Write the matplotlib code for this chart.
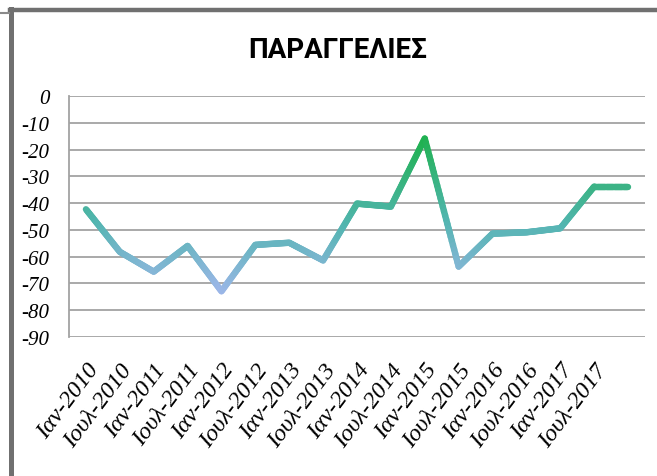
import numpy as np
import matplotlib
matplotlib.use("Agg")
import matplotlib.pyplot as plt
from matplotlib.collections import LineCollection
from matplotlib.colors import LinearSegmentedColormap, Normalize
from matplotlib.lines import Line2D

# Half-yearly order balance
periods = ["Ιαν-2010", "Ιουλ-2010", "Ιαν-2011", "Ιουλ-2011", "Ιαν-2012", "Ιουλ-2012",
           "Ιαν-2013", "Ιουλ-2013", "Ιαν-2014", "Ιουλ-2014", "Ιαν-2015", "Ιουλ-2015",
           "Ιαν-2016", "Ιουλ-2016", "Ιαν-2017", "Ιουλ-2017", ""]
orders = [-42.3, -58.2, -65.6, -56.0, -72.9, -55.6, -54.8, -61.4, -40.2, -41.3,
          -15.9, -63.7, -51.4, -50.9, -49.4, -33.8, -33.8]
yticks = [0, -10, -20, -30, -40, -50, -60, -70, -80, -90]

W, H, DPI = 657, 477, 100
fig = plt.figure(figsize=(W / DPI, H / DPI), dpi=DPI)
ax = fig.add_axes([69 / W, 1 - 338 / H, (645 - 69) / W, (338 - 97) / H])

x = np.arange(len(orders))
y = np.array(orders)

# gradient line: colour follows the vertical position
cmap = LinearSegmentedColormap.from_list(
    "grad", [(0.0, "#9cb6e8"), (0.45, "#52b5b0"), (1.0, "#1fb150")])
norm = Normalize(vmin=-73, vmax=-16)
segs, cols = [], []
n_sub = 30
for i in range(len(x) - 1):
    t = np.linspace(0, 1, n_sub + 1)
    xs = x[i] + (x[i + 1] - x[i]) * t
    ys = y[i] + (y[i + 1] - y[i]) * t
    for k in range(n_sub):
        segs.append([(xs[k], ys[k]), (xs[k + 1], ys[k + 1])])
        cols.append(cmap(norm((ys[k] + ys[k + 1]) / 2)))
lc = LineCollection(segs, colors=cols, linewidths=4.6, capstyle="round",
                    joinstyle="round", zorder=3)
ax.add_collection(lc)

serif = ["Liberation Serif", "DejaVu Serif"]
ax.set_xlim(-0.5, len(orders) - 0.5)
ax.set_ylim(-90, 0)
ax.set_yticks(yticks)
ax.set_yticklabels([str(v) for v in yticks], fontfamily=serif,
                   fontstyle="italic", fontsize=15)
ax.yaxis.grid(True, color="#a3a3a3", linewidth=1.3)
ax.set_axisbelow(True)
ax.tick_params(axis="y", length=0, pad=14)
ax.tick_params(axis="x", length=0, pad=16)
ax.set_xticks(x)
ax.set_xticklabels(periods, rotation=53, ha="right", va="top",
                   rotation_mode="anchor", fontfamily=serif,
                   fontstyle="italic", fontsize=17.5)
for side in ["top", "right", "bottom"]:
    ax.spines[side].set_visible(False)
ax.spines["left"].set_color("#a3a3a3")
ax.spines["left"].set_linewidth(1.3)

fig.text(338 / W, 1 - 50 / H, "ΠΑΡΑΓΓΕΛΙΕΣ", ha="center", va="center",
         fontfamily=["Roboto", "DejaVu Sans"], fontweight="bold", fontsize=20)

# outer chart frame
fig.add_artist(Line2D([10 / W, 1.0], [1 - 11 / H] * 2, color="#707070",
                      linewidth=3.2, transform=fig.transFigure))
fig.add_artist(Line2D([11 / W] * 2, [0.0, 1 - 10 / H], color="#707070",
                      linewidth=3.6, transform=fig.transFigure))
fig.add_artist(Line2D([0.0, 9 / W], [1 - 14 / H] * 2, color="#8a8a8a",
                      linewidth=1.5, transform=fig.transFigure))

fig.savefig("out.png", dpi=DPI)
